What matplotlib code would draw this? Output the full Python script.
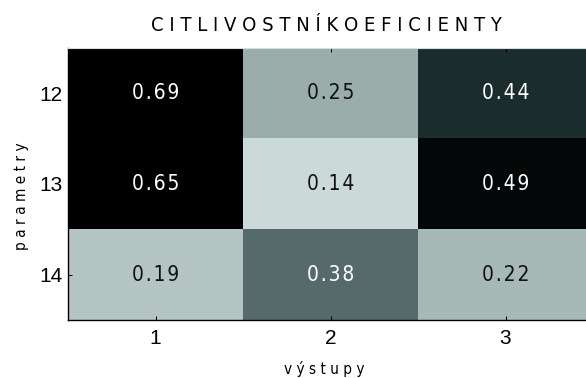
import matplotlib
matplotlib.use("Agg")
import matplotlib.pyplot as plt
import numpy as np
from matplotlib import font_manager as fm
from matplotlib.colors import LinearSegmentedColormap, Normalize

# Sensitivity coefficients: rows = parameters, columns = outputs
parameters = ["12", "13", "14"]
outputs = ["1", "2", "3"]
coefficients = np.array([
    [0.69, 0.25, 0.44],
    [0.65, 0.14, 0.49],
    [0.19, 0.38, 0.22],
])

title_text = "CITLIVOSTNÍ KOEFICIENTY"
xlabel_text = "výstupy"
ylabel_text = "parametry"

REGULAR = ["Liberation Sans", "DejaVu Sans"]

STRETCH_RANK = {"ultra-condensed": 0, "extra-condensed": 1, "condensed": 2,
                "semi-condensed": 3}


def stretch_name(s):
    if isinstance(s, (int, float)):
        return {100: "ultra-condensed", 200: "extra-condensed",
                300: "condensed", 400: "semi-condensed"}.get(int(s), "normal")
    return str(s)


def narrow_font():
    """Pick the narrowest upright, regular-weight face that is installed."""
    best = None
    for f in fm.fontManager.ttflist:
        name = f.name.lower()
        st = stretch_name(f.stretch)
        rank = STRETCH_RANK.get(st)
        if rank is None:
            if "narrow" in name or "extracondensed" in name.replace(" ", ""):
                rank = 1
            elif "condensed" in name:
                rank = 2
            else:
                continue
        if f.style != "normal":
            continue
        w = f.weight if isinstance(f.weight, int) else \
            {"light": 300, "normal": 400, "regular": 400}.get(f.weight, 700)
        if w > 400 or w < 300:
            continue
        key = (rank, abs(w - 400))
        if best is None or key < best[0]:
            best = (key, f.fname)
    return best[1] if best else None


_narrow_path = narrow_font()


def narrow(size):
    if _narrow_path:
        return fm.FontProperties(fname=_narrow_path, size=size)
    return fm.FontProperties(family=REGULAR, size=size * 0.8)


def spaced(s, sep=" "):
    """Letter-spaced rendering of a caption."""
    return sep.join(s.replace(" ", ""))


# Light grey-teal to black ramp, saturating above 0.5
cmap = LinearSegmentedColormap.from_list(
    "sens",
    [(0.0, "#cbd9d9"),
     ((0.25 - 0.14) / (0.69 - 0.14), "#9aadaa"),
     ((0.38 - 0.14) / (0.69 - 0.14), "#566a6b"),
     ((0.44 - 0.14) / (0.69 - 0.14), "#1b2c2d"),
     ((0.50 - 0.14) / (0.69 - 0.14), "#000000"),
     (1.0, "#000000")],
)
norm = Normalize(vmin=0.14, vmax=0.69)

W, H = 586, 378
fig = plt.figure(figsize=(W / 100, H / 100), dpi=100)
ax = fig.add_axes([68 / W, 1 - 320 / H, 525 / W, 272 / H])

ax.imshow(coefficients, cmap=cmap, norm=norm, aspect="auto",
          interpolation="nearest")

for i in range(coefficients.shape[0]):
    for j in range(coefficients.shape[1]):
        v = coefficients[i, j]
        color = "white" if v >= 0.3 else "#111111"
        ax.text(j, i, spaced(f"{v:.2f}", "\u200a"), ha="center",
                va="center", color=color, fontproperties=narrow(15))

ax.set_xticks(range(len(outputs)))
ax.set_xticklabels(outputs, family=REGULAR, fontsize=15)
ax.set_yticks(range(len(parameters)))
ax.set_yticklabels(parameters, family=REGULAR, fontsize=15)
ax.tick_params(axis="both", direction="in", length=3, width=0.75,
               top=True, right=True, colors="black")
ax.tick_params(axis="x", pad=6.5)
ax.tick_params(axis="y", pad=4)

for side in ("left", "bottom"):
    ax.spines[side].set_color("black")
    ax.spines[side].set_linewidth(1.0)
ax.spines["top"].set_color("#dcdcdc")
ax.spines["top"].set_linewidth(0.8)
ax.spines["right"].set_visible(False)

ax.set_title(spaced(title_text), fontproperties=narrow(14.5), pad=12,
             x=(326 - 68) / 525)
ax.set_xlabel(spaced(xlabel_text), fontproperties=narrow(11))
ax.set_ylabel(spaced(ylabel_text), fontproperties=narrow(11))
ax.xaxis.set_label_coords((324 - 68) / 525, (320 - 361) / 272)
ax.yaxis.set_label_coords((29 - 68) / 525, (320 - 196) / 272)

fig.savefig("out.png", dpi=100)
